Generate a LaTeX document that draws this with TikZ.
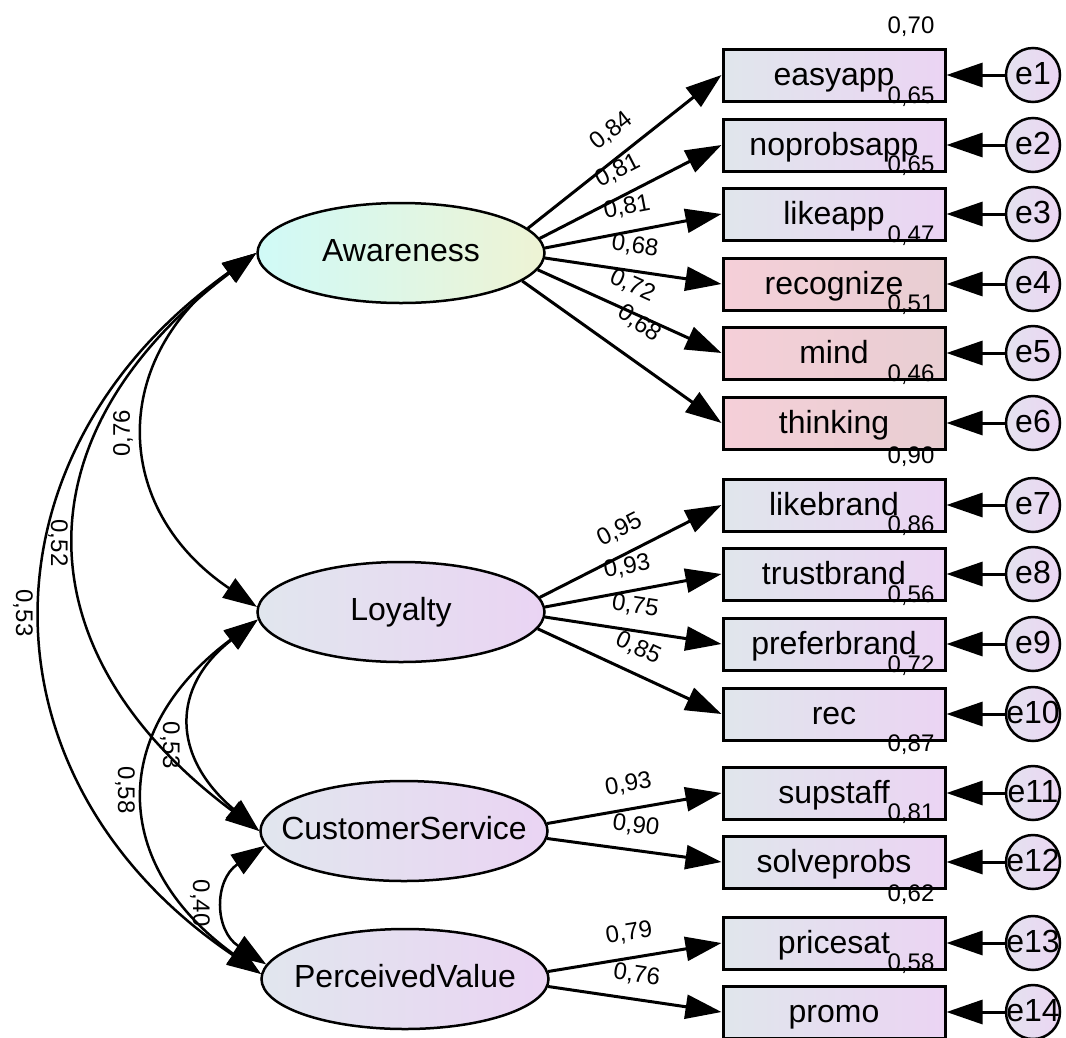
\documentclass[tikz,border=0pt]{standalone}
\usepackage{fontspec}
\setmainfont{Liberation Sans}
\usetikzlibrary{arrows.meta,shapes.geometric}
\definecolor{boxL}{HTML}{E0E6EC}
\definecolor{boxR}{HTML}{EBD4F3}
\definecolor{pinkL}{HTML}{F5CFD8}
\definecolor{pinkR}{HTML}{E8CED2}
\definecolor{awL}{HTML}{D0FAF7}
\definecolor{awR}{HTML}{EEF3D4}
\definecolor{latL}{HTML}{E1E6EE}
\definecolor{latR}{HTML}{EAD4F3}
\definecolor{errL}{HTML}{E4E2EF}
\definecolor{errR}{HTML}{EBD6F3}
\newcommand{\ctext}[1]{\makebox[0pt]{#1}}
\begin{document}
\begin{tikzpicture}[x=1pt,y=-1pt,
  bigfont/.style={font=\fontsize{32}{36}\selectfont},
  lat/.style={ellipse, draw=black, line width=2.5pt, minimum width=287pt, minimum height=100pt,
    inner sep=0pt, left color=latL, right color=latR, bigfont, text height=23pt, text depth=7pt},
  obs/.style={rectangle, draw=black, line width=3pt, minimum width=222pt, minimum height=52pt,
    inner sep=0pt, left color=boxL, right color=boxR, bigfont, text height=24pt, text depth=4pt},
  pinkobs/.style={obs, left color=pinkL, right color=pinkR},
  err/.style={circle, draw=black, line width=2.5pt, minimum size=54pt, inner sep=0pt,
    left color=errL, right color=errR, bigfont, text height=23pt, text depth=5pt},
  arr/.style={line width=3pt, -{Triangle[length=36pt,width=24pt]}},
  cov/.style={line width=2.5pt, {Triangle[length=34pt,width=23pt]}-{Triangle[length=34pt,width=23pt]}},
  lab/.style={font=\fontsize{24}{26}\selectfont, inner sep=1pt},
  ld/.style={lab, sloped, above=12pt, pos=.49}
]
\useasboundingbox (0,0) rectangle (1066,1037);
\fill[white] (0,0) rectangle (1066,1037);

% latent variables
\node[lat, left color=awL, right color=awR] (aw) at (401,253) {\ctext{Awareness}};
\node[lat] (loy) at (401,612) {\ctext{Loyalty}};
\node[lat] (cs) at (404,831) {\ctext{CustomerService}};
\node[lat] (pv) at (405,979) {\ctext{PerceivedValue}};

% observed variables
\node[obs] (b1) at (834,75) {easyapp};
\node[obs] (b2) at (834,145) {noprobsapp};
\node[obs] (b3) at (834,214) {likeapp};
\node[pinkobs] (b4) at (834,284) {recognize};
\node[pinkobs] (b5) at (834,353) {mind};
\node[pinkobs] (b6) at (834,423) {thinking};
\node[obs] (b7) at (834,505) {likebrand};
\node[obs] (b8) at (834,574) {trustbrand};
\node[obs] (b9) at (834,644) {preferbrand};
\node[obs] (b10) at (834,714) {rec};
\node[obs] (b11) at (834,793) {supstaff};
\node[obs] (b12) at (834,862) {solveprobs};
\node[obs] (b13) at (834,943) {pricesat};
\node[obs] (b14) at (834,1012) {promo};

% error terms
\foreach \i/\y in {1/75,2/145,3/214,4/284,5/353,6/423,7/505,8/574,9/644,10/714,11/793,12/862,13/943,14/1012}{
  \node[err] (e\i) at (1033,\y) {\ctext{e\i}};
  \draw[arr] (e\i) -- (b\i);
}

% squared multiple correlations
\node[lab] (r1) at (911,27) {0,70};
\node[lab] (r2) at (911,97) {0,65};
\node[lab] (r3) at (911,166) {0,65};
\node[lab] (r4) at (911,236) {0,47};
\node[lab] (r5) at (911,305) {0,51};
\node[lab] (r6) at (911,375) {0,46};
\node[lab] (r7) at (911,457) {0,90};
\node[lab] (r8) at (911,526) {0,86};
\node[lab] (r9) at (911,596) {0,56};
\node[lab] (r10) at (911,666) {0,72};
\node[lab] (r11) at (911,745) {0,87};
\node[lab] (r12) at (911,814) {0,81};
\node[lab] (r13) at (911,895) {0,62};
\node[lab] (r14) at (911,964) {0,58};

% loadings
\draw[arr] (aw.11) -- (b1.west) node[ld, pos=.51] {0,84};
\draw[arr] (aw.6) -- (b2.west) node[ld] {0,81};
\draw[arr] (aw.2) -- (b3.west) node[ld] {0,81};
\draw[arr] (aw.-2) -- (b4.west) node[ld] {0,68};
\draw[arr] (aw.-7) -- (b5.west) node[ld, pos=.46] {0,72};
\draw[arr] (aw.-13) -- (b6.west) node[ld, pos=.49, above=9pt] {0,68};
\draw[arr] (loy.6) -- (b7.west) node[ld, pos=.5] {0,95};
\draw[arr] (loy.2) -- (b8.west) node[ld] {0,93};
\draw[arr] (loy.-2) -- (b9.west) node[ld] {0,75};
\draw[arr] (loy.-7) -- (b10.west) node[ld] {0,85};
\draw[arr] (cs.3) -- (b11.west) node[ld] {0,93};
\draw[arr] (cs.-3) -- (b12.west) node[ld] {0,90};
\draw[arr] (pv.3) -- (b13.west) node[ld] {0,79};
\draw[arr] (pv.-3) -- (b14.west) node[ld] {0,76};

% covariances
\draw[cov] (aw.west) .. controls (110,357) and (110,508) .. (loy.178);
\draw[cov] (aw.west) .. controls (18,433) and (18,651) .. (cs.west);
\draw[cov] (aw.west) .. controls (-27,453) and (-27,780) .. (pv.178);
\draw[cov] (loy.183) .. controls (171,687) and (171,756) .. (cs.west);
\draw[cov] (loy.183) .. controls (109,730) and (109,864) .. (pv.178);
\draw[cov] (cs.186) .. controls (214,880) and (214,930) .. (pv.174);

\node[lab, rotate=90] (c1) at (123,433) {0,76};
\node[lab, rotate=-90] (c2) at (58,543) {0,52};
\node[lab, rotate=-90] (c3) at (23,613) {0,53};
\node[lab, rotate=-90] (c4) at (170,745) {0,53};
\node[lab, rotate=-90] (c5) at (125,790) {0,58};
\node[lab, rotate=-90] (c6) at (200,903) {0,40};
\end{tikzpicture}
\end{document}
